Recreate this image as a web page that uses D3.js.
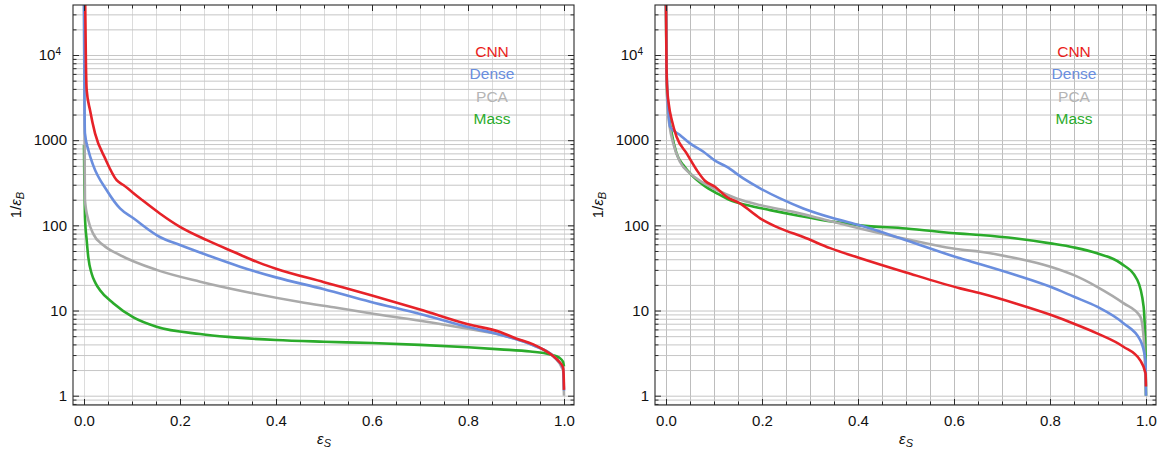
<!DOCTYPE html>
<html>
<head>
<meta charset="utf-8">
<script src="https://cdn.jsdelivr.net/npm/d3@7"></script>
<style>
  body { margin: 0; background: #fff; }
  text { font-family: "Liberation Sans", Arial, Helvetica, sans-serif; }
</style>
</head>
<body>
<svg id="chart" width="1161" height="454"></svg>
<script>
// ---- data: [signal efficiency, background rejection 1/eps_B] ----
const seriesNames = ["CNN", "Dense", "PCA", "Mass"];

const leftCNN = [[0.0025, 40000], [0.004, 8000], [0.0056, 3880], [0.0125, 2256], [0.023, 1200],
  [0.044, 611], [0.068, 340], [0.082, 297], [0.117, 207], [0.158, 138], [0.2, 96], [0.256, 67],
  [0.311, 49], [0.367, 36], [0.4, 31], [0.5, 21.5], [0.6, 15], [0.7, 10.3], [0.8, 6.9],
  [0.867, 5.6], [0.9, 4.7], [0.936, 4.0], [0.96, 3.4], [0.978, 2.9], [0.99, 2.5],
  [0.998, 2.15], [0.9995, 1.6], [1.0, 1.17]];
const leftDense = [[0.0, 40000], [0.001, 3000], [0.002, 1200], [0.009, 766], [0.019, 510],
  [0.047, 260], [0.075, 158], [0.103, 121], [0.158, 73], [0.2, 58.7], [0.256, 44.8],
  [0.325, 32.7], [0.4, 24.5], [0.5, 17.8], [0.596, 12.7], [0.7, 9.1], [0.8, 6.4],
  [0.867, 5.2], [0.936, 3.9], [0.978, 2.9], [0.998, 2.1], [1.0, 1.15]];
const leftPCA = [[0.0, 40000], [0.0008, 4000], [0.0012, 1000], [0.0016, 350], [0.002, 198],
  [0.009, 115], [0.019, 80], [0.04, 58.7], [0.075, 44.8], [0.151, 30], [0.242, 21.8],
  [0.346, 16.2], [0.45, 12.6], [0.52, 10.9], [0.596, 9.3], [0.7, 7.6], [0.8, 6.1],
  [0.867, 5.2], [0.936, 3.9], [0.978, 2.9], [0.998, 2.0], [1.0, 1.0]];
const leftMass = [[0.0, 880], [0.0008, 300], [0.002, 126], [0.0056, 67], [0.009, 42],
  [0.016, 27], [0.024, 21], [0.033, 17.4], [0.061, 12.2], [0.103, 8.3], [0.151, 6.45],
  [0.242, 5.3], [0.3, 4.9], [0.4, 4.5], [0.5, 4.3], [0.6, 4.15], [0.7, 3.95], [0.8, 3.7],
  [0.867, 3.5], [0.93, 3.3], [0.971, 3.05], [0.99, 2.8], [0.998, 2.5], [1.0, 2.2]];

const rightCNN = [[0.0, 40000], [0.001, 8000], [0.002, 4500], [0.006, 2600], [0.012, 1722],
  [0.022, 1096], [0.043, 700], [0.064, 446], [0.081, 334], [0.102, 284], [0.126, 217],
  [0.154, 181], [0.196, 121], [0.2375, 92], [0.286, 73], [0.342, 54], [0.4, 42], [0.5, 28],
  [0.613, 18.2], [0.655, 15.9], [0.73, 12], [0.801, 8.9], [0.85, 7], [0.898, 5.4],
  [0.953, 3.76], [0.988, 2.6], [0.999, 1.83], [1.0, 1.28]];
const rightDense = [[0.0, 40000], [0.001, 9000], [0.003, 3500], [0.006, 1900], [0.0083, 1440],
  [0.029, 1150], [0.05, 917], [0.078, 731], [0.102, 575], [0.126, 488], [0.161, 356],
  [0.196, 272], [0.2375, 207], [0.286, 158], [0.349, 121], [0.404, 100], [0.5, 67],
  [0.613, 41], [0.655, 35], [0.73, 26], [0.801, 19], [0.85, 14.5], [0.898, 11.1],
  [0.953, 7.1], [0.988, 4.5], [0.999, 2.6], [1.0, 1.0]];
const rightPCA = [[0.0, 40000], [0.001, 6000], [0.003, 2500], [0.008, 1400], [0.015, 917],
  [0.029, 558], [0.05, 407], [0.078, 316], [0.106, 260], [0.147, 207], [0.196, 173],
  [0.265, 144], [0.335, 115], [0.404, 92], [0.5, 69], [0.613, 52], [0.655, 49], [0.73, 41],
  [0.801, 32.7], [0.85, 26], [0.898, 19], [0.953, 12.2], [0.988, 8.5], [0.995, 4.9],
  [1.0, 1.0]];
const rightMass = [[0.0, 40000], [0.0008, 10000], [0.003, 2960], [0.012, 1200], [0.022, 700],
  [0.036, 510], [0.0535, 389], [0.078, 297], [0.106, 238], [0.133, 198], [0.168, 173],
  [0.217, 151], [0.279, 129], [0.349, 110], [0.404, 100], [0.5, 92], [0.613, 80],
  [0.655, 77], [0.73, 70], [0.801, 61.4], [0.85, 55], [0.898, 47], [0.947, 36],
  [0.982, 22.8], [0.995, 11.1], [0.999, 3.1], [1.0, 1.0]];

// tick values
const xTicks = [0, 0.2, 0.4, 0.6, 0.8, 1.0];
const xMinorTicks = d3.range(0, 21).map(i => i * 0.05);
const yTicks = [1, 10, 100, 1000, 10000];
const yMinorTicks = [0.8, 0.9].concat(
  ...[1, 10, 100, 1000].map(d => [2, 3, 4, 5, 6, 7, 8, 9].map(k => k * d)),
  [20000, 30000]);
const yGrid = yTicks.concat(yMinorTicks);

// ---- styling ----
const colors = { CNN: "#e62228", Dense: "#6a8ede", PCA: "#aaaaaa", Mass: "#2bab2b" };
const legendColors = { CNN: "#ea1c1c", Dense: "#6a8ede", PCA: "#b4b4b4", Mass: "#2bab2b" };
const drawOrder = ["Mass", "PCA", "Dense", "CNN"];

const svg = d3.select("#chart");
const plotTop = 5, plotBottom = 405;

function drawPanel(idx, originX, data, vGridColor) {
  const x0 = originX, x1 = originX + 501;
  const x = d3.scaleLinear().domain([-11 / 480, 1 + 10 / 480]).range([x0, x1]);
  const y = d3.scaleLog().domain([0.7775, 38650]).range([plotBottom, plotTop]);
  const g = svg.append("g");

  const clipId = "clip" + idx;
  svg.append("clipPath").attr("id", clipId)
    .append("rect").attr("x", x0).attr("y", plotTop).attr("width", x1 - x0).attr("height", plotBottom - plotTop);

  // grid
  const gv = g.append("g").attr("transform", `translate(0,${plotBottom})`)
    .call(d3.axisBottom(x).tickValues(xMinorTicks).tickSize(-(plotBottom - plotTop)).tickFormat(""));
  gv.select(".domain").remove();
  gv.selectAll("line").attr("stroke", vGridColor).attr("stroke-width", 1);

  const gh = g.append("g").attr("transform", `translate(${x0},0)`)
    .call(d3.axisLeft(y).tickValues(yGrid).tickSize(-(x1 - x0)).tickFormat(""));
  gh.select(".domain").remove();
  gh.selectAll("line").attr("stroke", "#c6c6c6").attr("stroke-width", 1);

  // curves
  const line = d3.line().x(d => x(d[0])).y(d => y(d[1])).curve(d3.curveMonotoneX);
  const lg = g.append("g").attr("clip-path", `url(#${clipId})`);
  drawOrder.forEach(name => {
    lg.append("path").datum(data[name])
      .attr("d", line).attr("fill", "none")
      .attr("stroke", colors[name]).attr("stroke-width", 2.6)
      .attr("stroke-linejoin", "round");
  });

  // frame
  g.append("rect").attr("x", x0).attr("y", plotTop).attr("width", x1 - x0).attr("height", plotBottom - plotTop)
    .attr("fill", "none").attr("stroke", "#2a2a2a").attr("stroke-width", 1.1);

  const tickColor = "#2a2a2a";
  function styleAxis(sel) {
    sel.select(".domain").remove();
    sel.selectAll("line").attr("stroke", tickColor).attr("stroke-width", 1);
  }
  const xMinorOnly = xMinorTicks.filter(v => Math.round(v * 20) % 4 !== 0);

  // x ticks (inward), bottom and top
  const xb = g.append("g").attr("transform", `translate(0,${plotBottom})`)
    .call(d3.axisBottom(x).tickValues(xTicks).tickSizeInner(-6).tickSizeOuter(0).tickPadding(10)
      .tickFormat(d3.format(".1f")));
  styleAxis(xb);
  xb.selectAll("text").attr("font-size", 15).attr("fill", "#111");
  styleAxis(g.append("g").attr("transform", `translate(0,${plotBottom})`)
    .call(d3.axisBottom(x).tickValues(xMinorOnly).tickSizeInner(-3.5).tickSizeOuter(0).tickFormat("")));
  styleAxis(g.append("g").attr("transform", `translate(0,${plotTop})`)
    .call(d3.axisTop(x).tickValues(xTicks).tickSizeInner(-6).tickSizeOuter(0).tickFormat("")));
  styleAxis(g.append("g").attr("transform", `translate(0,${plotTop})`)
    .call(d3.axisTop(x).tickValues(xMinorOnly).tickSizeInner(-3.5).tickSizeOuter(0).tickFormat("")));

  // y ticks (inward), left and right
  const yl = g.append("g").attr("transform", `translate(${x0},0)`)
    .call(d3.axisLeft(y).tickValues(yTicks).tickSizeInner(-6).tickSizeOuter(0).tickPadding(6)
      .tickFormat(d => d >= 10000 ? "10" : String(d)));
  styleAxis(yl);
  yl.selectAll("text").attr("font-size", 15).attr("fill", "#111");
  yl.selectAll(".tick").filter(d => d >= 10000).select("text")
    .attr("dx", "-0.4em")
    .append("tspan").attr("dy", "-0.5em").attr("font-size", 10).text("4");
  styleAxis(g.append("g").attr("transform", `translate(${x0},0)`)
    .call(d3.axisLeft(y).tickValues(yMinorTicks).tickSizeInner(-3.5).tickSizeOuter(0).tickFormat("")));
  styleAxis(g.append("g").attr("transform", `translate(${x1},0)`)
    .call(d3.axisRight(y).tickValues(yTicks).tickSizeInner(-6).tickSizeOuter(0).tickFormat("")));
  styleAxis(g.append("g").attr("transform", `translate(${x1},0)`)
    .call(d3.axisRight(y).tickValues(yMinorTicks).tickSizeInner(-3.5).tickSizeOuter(0).tickFormat("")));

  // axis labels
  const yLab = g.append("text")
    .attr("transform", `translate(${x0 - 52},${(plotTop + plotBottom) / 2}) rotate(-90)`)
    .attr("text-anchor", "middle").attr("font-size", 15).attr("fill", "#111");
  yLab.append("tspan").text("1/");
  yLab.append("tspan").attr("font-style", "italic").text("ε");
  yLab.append("tspan").attr("font-style", "italic").attr("font-size", 11).attr("dy", "0.3em").text("B");

  const xLab = g.append("text")
    .attr("x", x(0.5)).attr("y", 444)
    .attr("text-anchor", "middle").attr("font-size", 15).attr("fill", "#111");
  xLab.append("tspan").attr("font-style", "italic").text("ε");
  xLab.append("tspan").attr("font-style", "italic").attr("font-size", 11).attr("dy", "0.3em").text("S");

  // legend
  const lgX = x0 + 419;
  seriesNames.forEach((name, i) => {
    g.append("text").attr("x", lgX).attr("y", 57 + i * 22.3)
      .attr("text-anchor", "middle").attr("font-size", 15.5)
      .attr("fill", legendColors[name]).text(name);
  });
}

drawPanel(0, 73, { CNN: leftCNN, Dense: leftDense, PCA: leftPCA, Mass: leftMass }, "#dcdcdc");
drawPanel(1, 655, { CNN: rightCNN, Dense: rightDense, PCA: rightPCA, Mass: rightMass }, "#bdbdbd");
</script>
</body>
</html>
